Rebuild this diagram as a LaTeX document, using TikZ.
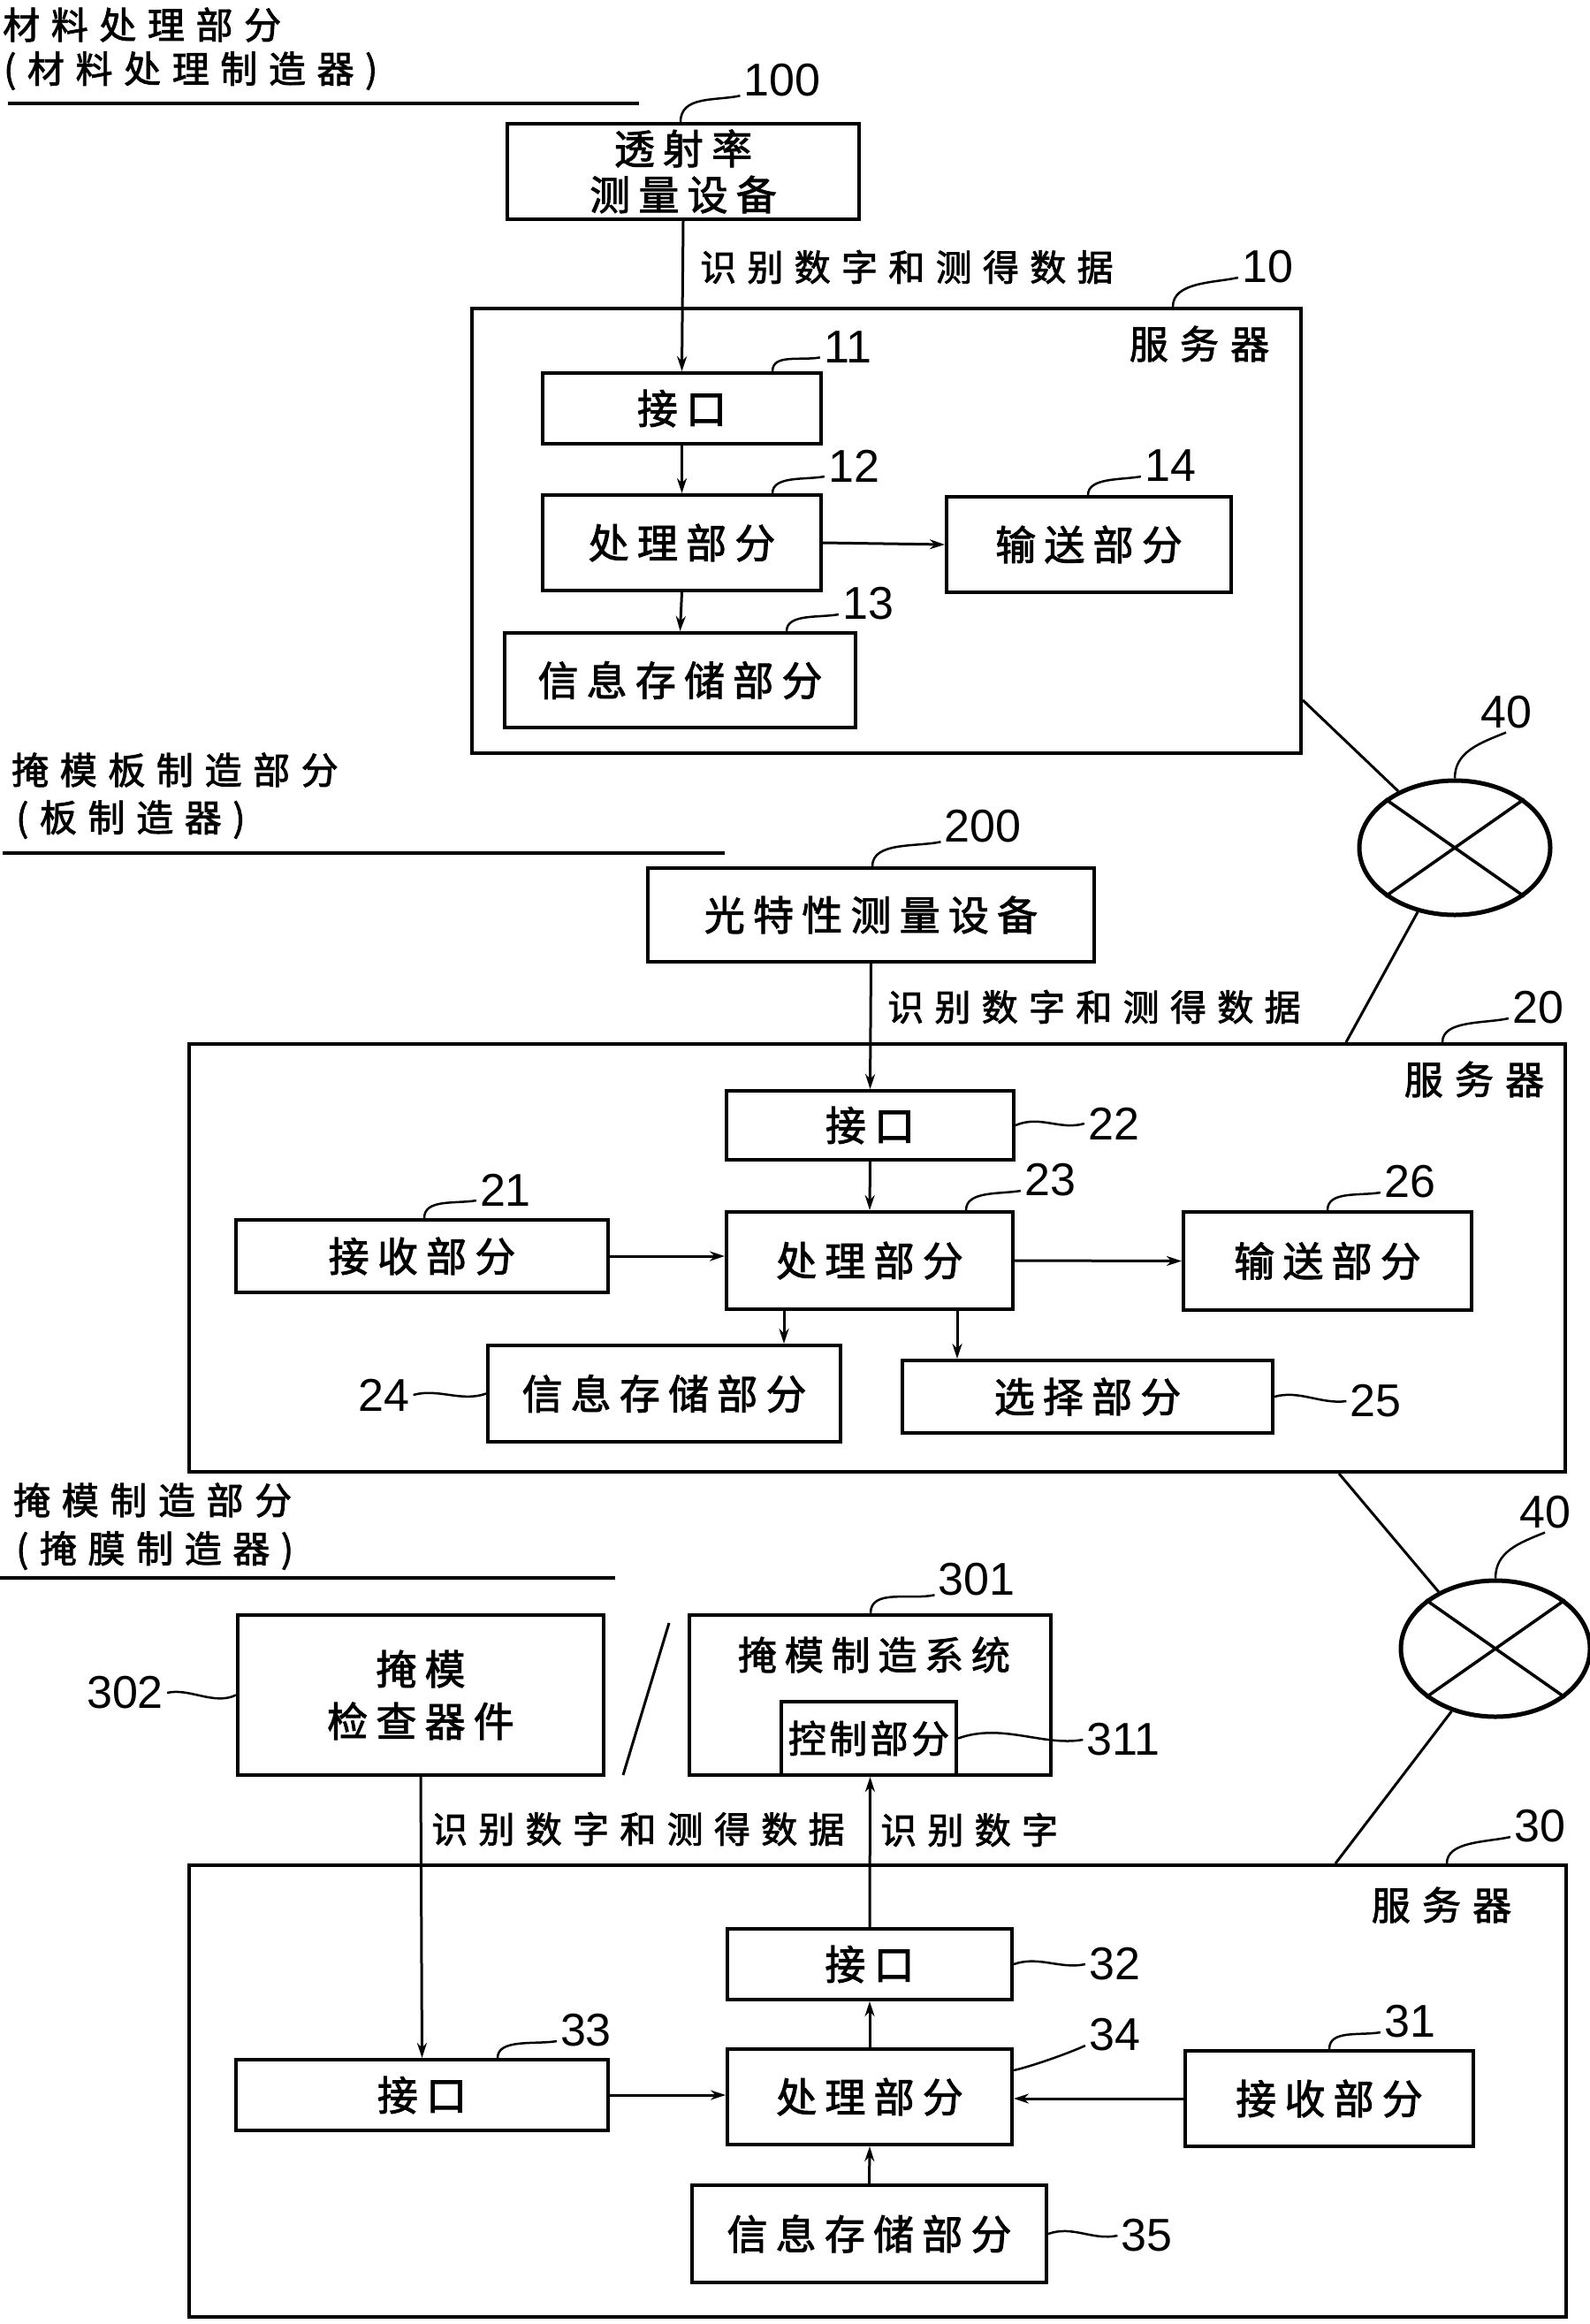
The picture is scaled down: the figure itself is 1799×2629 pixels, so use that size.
\documentclass[tikz,border=0pt]{standalone}
\usepackage{fontspec}
\usetikzlibrary{arrows.meta,shapes.geometric,calc}
\newfontfamily\cjkbox{Noto Sans CJK SC}[LetterSpace=20,FakeBold=2]
\newfontfamily\cjklab{Noto Sans CJK SC}[LetterSpace=30,FakeBold=2]
\newfontfamily\cjktight{Noto Sans CJK SC}[LetterSpace=8,FakeBold=2]
\newfontfamily\numfont{Liberation Sans}
\tikzset{
  box/.style={draw, line width=4pt, inner sep=0pt, align=center, font=\cjkbox\fontsize{46}{52}\selectfont},
  server/.style={draw, line width=4pt, inner sep=0pt},
  cjktext/.style={inner sep=0pt, font=\cjklab\fontsize{41}{50}\selectfont},
  srvname/.style={inner sep=0pt, font=\cjklab\fontsize{44}{50}\selectfont},
  headtext/.style={inner sep=0pt, anchor=west, font=\cjklab\fontsize{42}{50}\selectfont},
  num/.style={inner sep=4pt, font=\numfont\fontsize{52}{60}\selectfont},
  arr/.style={line width=3pt, -{Stealth[length=17pt,width=11pt]}},
  leader/.style={line width=2.5pt},
  net/.style={draw, ellipse, line width=5pt, minimum width=216, minimum height=152, inner sep=0pt},
  netlink/.style={line width=3pt},
  hrule/.style={line width=4pt},
}
\begin{document}
\begin{tikzpicture}[x=1pt,y=-1pt]
\fill[white] (0,0) rectangle (1799,2629);
\useasboundingbox (0,0) rectangle (1799,2629);

% ---------------- Section 1 ----------------
\node[headtext] (h1a) at (3,28) {材料处理部分};
\node[headtext] (h1b) at (4,80) {(材料处理制造器)};
\coordinate (u1a) at (9,117); \coordinate (u1b) at (723,117);
\draw[hrule] (u1a) -- (u1b);

\node[box, minimum width=398, minimum height=108] (n100) at (773,194) {透射率\\测量设备};
\node[num] (l100) at (885,91) {100};
\draw[leader] ($(n100.north west)+(198,0)$) .. controls +(0,-30) and +(-28,6) .. (l100.200);

\node[server, minimum width=938, minimum height=503] (S10) at (1003,600.5) {};
\node[srvname] (s10t) at (1357,389) {服务器};
\node[num] (l10) at (1434,302) {10};
\draw[leader] ($(S10.north west)+(795,0)$) .. controls +(0,-28) and +(-28,6) .. (l10.200);

\node[cjktext, anchor=west] (t1) at (792,302) {识别数字和测得数据};

\node[box, minimum width=315, minimum height=80] (n11) at (771.5,462) {接口};
\node[num] (l11) at (959,393) {11};
\draw[leader] ($(n11.north west)+(262,0)$) .. controls +(0,-20) and +(-22,4) .. (l11.200);

\node[box, minimum width=315, minimum height=108] (n12) at (771.5,614) {处理部分};
\node[num] (l12) at (966,527) {12};
\draw[leader] ($(n12.north west)+(262,0)$) .. controls +(0,-20) and +(-22,4) .. (l12.200);

\node[box, minimum width=322, minimum height=108] (n14) at (1232,616) {输送部分};
\node[num] (l14) at (1324,527) {14};
\draw[leader] ($(n14.north west)+(162,0)$) .. controls +(0,-20) and +(-22,4) .. (l14.200);

\node[box, minimum width=397, minimum height=107] (n13) at (769.5,769.5) {信息存储部分};
\node[num] (l13) at (982,683) {13};
\draw[leader] ($(n13.north west)+(321,0)$) .. controls +(0,-20) and +(-22,4) .. (l13.200);

\draw[arr] (n100.south) -- (n11.north);
\draw[arr] (n11.south) -- (n12.north);
\draw[arr] (n12.east) -- (n14.west);
\draw[arr] (n12.south) -- (n13.north);

% network 1
\node[net] (E1) at (1646,959) {};
\draw[line width=3.5pt] (E1.35) -- (E1.215);
\draw[line width=3.5pt] (E1.145) -- (E1.325);
\node[num] (l40a) at (1704,806) {40};
\draw[leader] (E1.north) .. controls +(0,-30) and +(-30,12) .. (l40a.south);
\draw[netlink] ($(S10.south east)+(0,-62)$) -- (E1.135);

% ---------------- Section 2 ----------------
\node[headtext] (h2a) at (13,871) {掩模板制造部分};
\node[headtext] (h2b) at (18,927) {(板制造器)};
\coordinate (u2a) at (3,965); \coordinate (u2b) at (820,965);
\draw[hrule] (u2a) -- (u2b);

\node[box, minimum width=505, minimum height=106] (n200) at (985.5,1035) {光特性测量设备};
\node[num] (l200) at (1112,935) {200};
\draw[leader] ($(n200.north west)+(256,0)$) .. controls +(0,-28) and +(-28,6) .. (l200.200);

\node[cjktext, anchor=west] (t2) at (1004,1139) {识别数字和测得数据};

\node[server, minimum width=1557, minimum height=484] (S20) at (992.5,1423) {};
\node[srvname] (s20t) at (1668,1221) {服务器};
\node[num] (l20) at (1740,1140) {20};
\draw[leader] ($(S20.north west)+(1420,0)$) .. controls +(0,-25) and +(-28,6) .. (l20.200);
\draw[netlink] (E1.240) -- ($(S20.north west)+(1311,0)$);

\node[box, minimum width=325, minimum height=78] (n22) at (984.5,1273) {接口};
\node[num] (l22) at (1260,1271) {22};
\draw[leader] (n22.east) .. controls +(28,-12) and +(-28,8) .. (l22.west);

\node[box, minimum width=324, minimum height=110] (n23) at (984,1426) {处理部分};
\node[num] (l23) at (1188,1335) {23};
\draw[leader] ($(n23.north west)+(273,0)$) .. controls +(0,-22) and +(-24,4) .. (l23.200);

\node[box, minimum width=326, minimum height=111] (n26) at (1502,1426.5) {输送部分};
\node[num] (l26) at (1595,1337) {26};
\draw[leader] (n26.north) .. controls +(0,-22) and +(-24,4) .. (l26.200);

\node[box, minimum width=421, minimum height=82] (n21) at (477.5,1421) {接收部分};
\node[num] (l21) at (572,1346) {21};
\draw[leader] ($(n21.north west)+(215,0)$) .. controls +(0,-22) and +(-24,4) .. (l21.200);

\node[box, minimum width=399, minimum height=109] (n24) at (751.5,1576.5) {信息存储部分};
\node[num] (l24) at (434.5,1578) {24};
\draw[leader] (n24.west) .. controls +(-28,10) and +(28,-8) .. (l24.east);

\node[box, minimum width=419, minimum height=82] (n25) at (1230.5,1580) {选择部分};
\node[num] (l25) at (1556.5,1585) {25};
\draw[leader] (n25.east) .. controls +(28,-8) and +(-28,4) .. (l25.west);

\draw[arr] (n200.south) -- (n22.north);
\draw[arr] (n22.south) -- (n23.north);
\draw[arr] (n23.east) -- (n26.west);
\draw[arr] (n21.east) -- (n21.east -| n23.west);
\coordinate (d24) at ($(n23.south west)+(67,0)$);
\draw[arr] (d24) -- (d24 |- n24.north);
\coordinate (d25) at ($(n23.south west)+(263,0)$);
\draw[arr] (d25) -- (d25 |- n25.north);

% network 2
\node[net, minimum width=214, minimum height=154] (E2) at (1692,1865) {};
\draw[line width=3.5pt] (E2.35) -- (E2.215);
\draw[line width=3.5pt] (E2.145) -- (E2.325);
\node[num] (l40b) at (1748,1711) {40};
\draw[leader] (E2.north) .. controls +(0,-30) and +(-30,12) .. (l40b.south);
\draw[netlink] ($(S20.south west)+(1303,0)$) -- (E2.135);

% ---------------- Section 3 ----------------
\node[headtext] (h3a) at (15,1697) {掩模制造部分};
\node[headtext] (h3b) at (18,1754) {(掩膜制造器)};
\coordinate (u3a) at (0,1785); \coordinate (u3b) at (696,1785);
\draw[hrule] (u3a) -- (u3b);

\node[box, minimum width=414, minimum height=181] (n302) at (476,1917.5) {掩模\\[7pt]检查器件};
\node[num] (l302) at (141.5,1915) {302};
\draw[leader] (n302.west) .. controls +(-25,12) and +(25,-6) .. (l302.east);

\coordinate (sl1) at (757,1836); \coordinate (sl2) at (705,2008);
\draw[line width=3pt] (sl1) -- (sl2);

\node[server, minimum width=409, minimum height=181] (n301) at (984.5,1917.5) {};
\node[inner sep=0pt, font=\cjkbox\fontsize{44}{52}\selectfont] (t301) at (989,1872) {掩模制造系统};
\node[num] (l301) at (1105,1787) {301};
\draw[leader] ($(n301.north west)+(207,0)$) .. controls +(0,-28) and +(-28,6) .. (l301.200);

\node[draw, line width=4pt, inner sep=0pt, minimum width=198, minimum height=83, font=\cjktight\fontsize{43}{50}\selectfont] (n311) at (983,1966.5) {控制部分};
\node[num] (l311) at (1271,1968) {311};
\draw[leader] (n311.east) .. controls +(50,-18) and +(-45,8) .. (l311.west);

\node[cjktext, anchor=west] (t3) at (488,2069) {识别数字和测得数据};
\node[cjktext, anchor=west] (t4) at (996,2070) {识别数字};

\node[server, minimum width=1558, minimum height=511] (S30) at (993,2365.5) {};
\node[srvname] (s30t) at (1631,2155) {服务器};
\node[num] (l30) at (1742,2066) {30};
\draw[leader] ($(S30.north west)+(1425,0)$) .. controls +(0,-25) and +(-28,6) .. (l30.200);
\draw[netlink] (E2.235) -- ($(S30.north west)+(1299,0)$);

\node[box, minimum width=322, minimum height=80] (n32) at (984,2222) {接口};
\node[num] (l32) at (1261,2222) {32};
\draw[leader] (n32.east) .. controls +(28,-10) and +(-28,6) .. (l32.west);

\node[box, minimum width=322, minimum height=108] (n34) at (984,2372) {处理部分};
\node[num] (l34) at (1261,2302) {34};
\draw[leader] ($(n34.north east)+(0,26)$) .. controls +(18,-4) and +(-22,10) .. (l34.200);

\node[box, minimum width=326, minimum height=108] (n31) at (1504,2374) {接收部分};
\node[num] (l31) at (1595,2287) {31};
\draw[leader] (n31.north) .. controls +(0,-22) and +(-24,4) .. (l31.200);

\node[box, minimum width=421, minimum height=80] (n33) at (477.5,2370) {接口};
\node[num] (l33) at (663,2297) {33};
\draw[leader] ($(n33.north west)+(298,0)$) .. controls +(0,-22) and +(-24,4) .. (l33.200);

\node[box, minimum width=401, minimum height=110] (n35) at (983.5,2527) {信息存储部分};
\node[num] (l35) at (1297.5,2529) {35};
\draw[leader] (n35.east) .. controls +(28,-10) and +(-28,6) .. (l35.west);

\draw[arr] (n302.south) -- (n33.north);
\draw[arr] (n33.east) -- (n33.east -| n34.west);
\draw[arr] (n31.west) -- (n31.west -| n34.east);
\draw[arr] (n35.north) -- (n34.south);
\draw[arr] (n34.north) -- (n32.south);
\draw[arr] (n32.north) -- (n301.south);
\end{tikzpicture}
\end{document}
